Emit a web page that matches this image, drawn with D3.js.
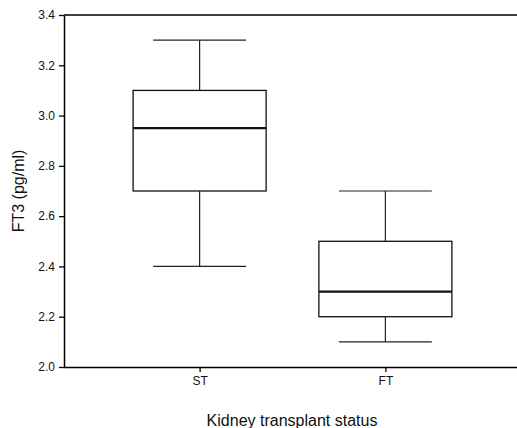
<!DOCTYPE html>
<html>
<head>
<meta charset="utf-8">
<script src="https://cdn.jsdelivr.net/npm/d3@7"></script>
<style>
  body { margin: 0; background: #fff; }
  svg { display: block; font-family: "Liberation Sans", Arial, sans-serif; }
</style>
</head>
<body>
<div id="chart"></div>
<script>
// groups and five-number summaries
const groups = ["ST", "FT"];
const mins = [2.4, 2.1];
const q1s = [2.7, 2.2];
const medians = [2.95, 2.3];
const q3s = [3.1, 2.5];
const maxs = [3.3, 2.7];
const yTicks = [2.0, 2.2, 2.4, 2.6, 2.8, 3.0, 3.2, 3.4];

const width = 517, height = 428;
const plotLeft = 64, plotTop = 15, plotBottom = 367;

const data = groups.map((g, i) => ({
	group: g, min: mins[i], q1: q1s[i], median: medians[i], q3: q3s[i], max: maxs[i]
}));

const svg = d3.select("#chart").append("svg")
	.attr("width", width)
	.attr("height", height);

const x = d3.scalePoint().domain(groups).range([plotLeft, 521]).padding(0.73);
const step = x.step();
const y = d3.scaleLinear().domain([2.0, 3.4]).range([plotBottom, plotTop]);

const boxW = step * 0.716;
const capW = step * 0.5;

// boxes
const g = svg.selectAll(".box").data(data).enter().append("g").attr("class", "box");

g.append("line")
	.attr("x1", d => x(d.group)).attr("x2", d => x(d.group))
	.attr("y1", d => y(d.max)).attr("y2", d => y(d.q3))
	.attr("stroke", "#222").attr("stroke-width", 1.2);
g.append("line")
	.attr("x1", d => x(d.group)).attr("x2", d => x(d.group))
	.attr("y1", d => y(d.q1)).attr("y2", d => y(d.min))
	.attr("stroke", "#222").attr("stroke-width", 1.2);
g.append("line")
	.attr("x1", d => x(d.group) - capW / 2).attr("x2", d => x(d.group) + capW / 2)
	.attr("y1", d => y(d.max)).attr("y2", d => y(d.max))
	.attr("stroke", "#222").attr("stroke-width", 1.2);
g.append("line")
	.attr("x1", d => x(d.group) - capW / 2).attr("x2", d => x(d.group) + capW / 2)
	.attr("y1", d => y(d.min)).attr("y2", d => y(d.min))
	.attr("stroke", "#222").attr("stroke-width", 1.2);
g.append("rect")
	.attr("x", d => x(d.group) - boxW / 2)
	.attr("width", boxW)
	.attr("y", d => y(d.q3))
	.attr("height", d => y(d.q1) - y(d.q3))
	.attr("fill", "#fff")
	.attr("stroke", "#111").attr("stroke-width", 1.3);
g.append("line")
	.attr("x1", d => x(d.group) - boxW / 2).attr("x2", d => x(d.group) + boxW / 2)
	.attr("y1", d => y(d.median)).attr("y2", d => y(d.median))
	.attr("stroke", "#111").attr("stroke-width", 2.2);

// axes
const axisY = svg.append("g")
	.attr("transform", `translate(${plotLeft},0)`)
	.call(d3.axisLeft(y).tickValues(yTicks).tickFormat(d3.format(".1f")).tickSize(5).tickSizeOuter(0));
const axisX = svg.append("g")
	.attr("transform", `translate(0,${plotBottom})`)
	.call(d3.axisBottom(x).tickSize(5).tickSizeOuter(0));

[axisY, axisX].forEach(a => {
	a.select(".domain").attr("stroke", "#000").attr("stroke-width", 1.5);
	a.selectAll(".tick line").attr("stroke", "#000").attr("stroke-width", 1.3);
	a.selectAll(".tick text").attr("fill", "#111")
		.style("font-family", "'Liberation Sans', Arial, sans-serif")
		.style("font-size", "12px");
});
axisX.select(".domain").attr("d", `M${plotLeft},0.5H${width}`);
axisX.selectAll(".tick text").attr("dy", "0.71em").attr("y", 9);
axisY.selectAll(".tick text").attr("x", -9);

// top frame line
svg.append("line")
	.attr("x1", plotLeft).attr("x2", width)
	.attr("y1", plotTop).attr("y2", plotTop)
	.attr("stroke", "#000").attr("stroke-width", 1.5);

// titles
svg.append("text")
	.attr("x", 292).attr("y", 426)
	.attr("text-anchor", "middle")
	.style("font-size", "16px").attr("fill", "#111")
	.text("Kidney transplant status");

svg.append("text")
	.attr("transform", `translate(24,191) rotate(-90)`)
	.attr("text-anchor", "middle")
	.style("font-size", "16px").attr("fill", "#111")
	.text("FT3 (pg/ml)");
</script>
</body>
</html>
